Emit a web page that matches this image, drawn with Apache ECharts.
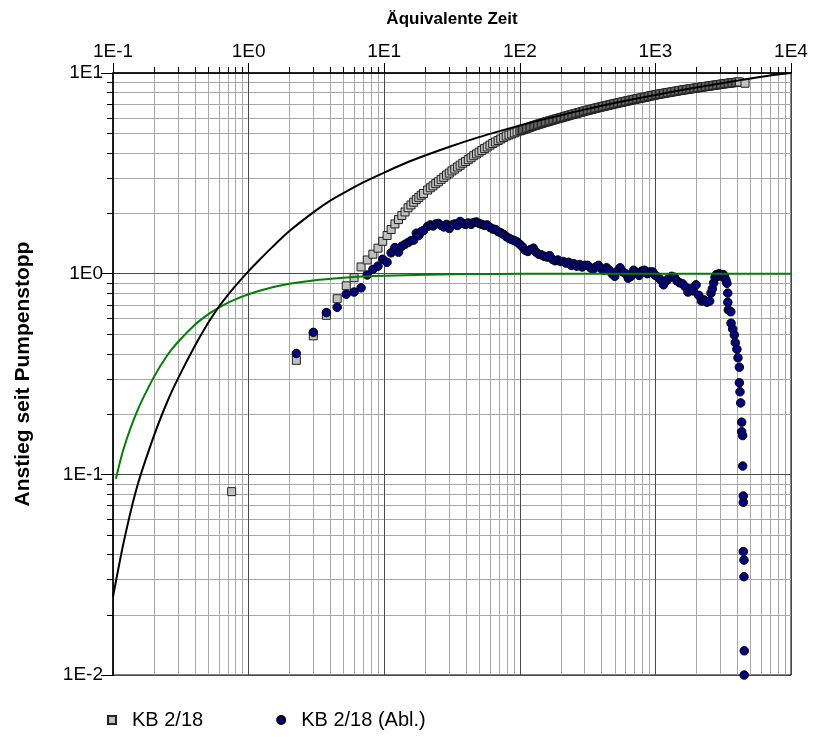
<!DOCTYPE html>
<html>
<head>
<meta charset="utf-8">
<script src="https://cdn.jsdelivr.net/npm/echarts@6/dist/echarts.min.js"></script>
<style>
html, body { margin: 0; padding: 0; background: #fff; }
#chart { width: 814px; height: 740px; }
</style>
</head>
<body>
<div id="chart"></div>
<script>
// Recovery after pump stop: measured rise and its derivative, with type curves.
const xDecades = [0.1, 1, 10, 100, 1000, 10000];
const yDecades = [0.01, 0.1, 1, 10];

// Type curve (rise) [equivalent time, rise]
const typeCurve = [
  [0.1, 0.0245], [0.12, 0.046], [0.15, 0.086], [0.2, 0.155], [0.25, 0.228], [0.3, 0.298],
  [0.4, 0.435], [0.5, 0.565], [0.6, 0.68], [0.7, 0.78], [0.8, 0.87], [1, 1.03],
  [1.2, 1.17], [1.5, 1.36], [2, 1.63], [3, 2.02], [4, 2.31], [5, 2.52], [7, 2.85], [10, 3.19],
  [15, 3.60], [20, 3.88], [30, 4.28], [50, 4.79], [70, 5.12], [100, 5.47], [150, 5.88],
  [200, 6.16], [300, 6.57], [500, 7.08], [700, 7.42], [1000, 7.77], [1500, 8.18],
  [2000, 8.46], [3000, 8.86], [5000, 9.38], [7000, 9.72], [10000, 10.0]
];

// Type curve (derivative)
const typeDerivative = [
  [0.105, 0.095], [0.12, 0.135], [0.15, 0.205], [0.2, 0.305], [0.25, 0.39], [0.3, 0.455],
  [0.4, 0.555], [0.5, 0.625], [0.6, 0.675], [0.7, 0.715], [0.8, 0.745], [1, 0.79],
  [1.5, 0.855], [2, 0.89], [3, 0.925], [5, 0.954], [7, 0.967], [10, 0.977], [20, 0.988],
  [50, 0.995], [100, 0.998], [1000, 1.0], [10000, 1.0]
];

// KB 2/18 measured rise
const kbRise = [
  [0.75, 0.082], [2.25, 0.37], [3.0, 0.49], [3.75, 0.62], [4.5, 0.75], [5.25, 0.87],
  [6.0, 0.955], [6.75, 1.08], [7.5, 1.17], [8.25, 1.25], [9.0, 1.34], [9.75, 1.45],
  [10.5, 1.55], [11.25, 1.66], [12.0, 1.77], [12.75, 1.86], [13.5, 1.95], [14.25, 2.03],
  [15.0, 2.13], [15.75, 2.20], [16.5, 2.27], [17.25, 2.34], [18.0, 2.40], [18.75, 2.46],
  [19.5, 2.51], [20.9, 2.61], [21.9, 2.68], [22.9, 2.74], [24.0, 2.81], [25.1, 2.87],
  [26.3, 2.95], [27.5, 3.02], [28.8, 3.10], [30.2, 3.17], [31.6, 3.25], [33.1, 3.32],
  [34.7, 3.40], [36.3, 3.47], [38.0, 3.55], [39.8, 3.62], [41.7, 3.70], [43.7, 3.78],
  [45.7, 3.87], [47.9, 3.95], [50.1, 4.03], [52.5, 4.11], [55.0, 4.20], [57.5, 4.28],
  [60.3, 4.37], [63.1, 4.45], [66.1, 4.53], [69.2, 4.61], [72.4, 4.69], [75.9, 4.77],
  [79.4, 4.85], [83.2, 4.91], [87.1, 4.97], [91.2, 5.03], [95.5, 5.09],
  [100, 5.15], [102.3, 5.18], [104.7, 5.21], [107.2, 5.24], [109.6, 5.27], [112.2, 5.30],
  [114.8, 5.33], [117.5, 5.36], [120.2, 5.39], [123.0, 5.42], [125.9, 5.45], [128.8, 5.47],
  [131.8, 5.50], [134.9, 5.53], [138.0, 5.56], [141.3, 5.58], [144.5, 5.61], [147.9, 5.64],
  [151.4, 5.67], [154.9, 5.69], [158.5, 5.72], [162.2, 5.74], [166.0, 5.77], [169.8, 5.79],
  [173.8, 5.82], [177.8, 5.85], [182.0, 5.88], [186.2, 5.90], [190.5, 5.93], [195.0, 5.95],
  [199.5, 5.98], [204.2, 6.00], [208.9, 6.03], [213.8, 6.06], [218.8, 6.09], [223.9, 6.11],
  [229.1, 6.14], [234.4, 6.17], [239.9, 6.20], [245.5, 6.22], [251.2, 6.25], [257.0, 6.27],
  [263.0, 6.30], [269.2, 6.33], [275.4, 6.36], [281.8, 6.38], [288.4, 6.41], [295.1, 6.44],
  [302.0, 6.47], [309.0, 6.49], [316.2, 6.52], [323.6, 6.54], [331.1, 6.57], [338.8, 6.59],
  [346.7, 6.62], [354.8, 6.65], [363.1, 6.68], [371.5, 6.70], [380.2, 6.73], [389.0, 6.75],
  [398.1, 6.78], [407.4, 6.80], [416.9, 6.83], [426.6, 6.85], [436.5, 6.88], [446.7, 6.90],
  [457.1, 6.93], [467.7, 6.95], [478.6, 6.98], [489.8, 7.00], [501.2, 7.03], [512.9, 7.05],
  [524.8, 7.08], [537.0, 7.10], [549.5, 7.13], [562.3, 7.15], [575.4, 7.18], [588.8, 7.20],
  [602.6, 7.23], [616.6, 7.25], [631.0, 7.28], [645.7, 7.30], [660.7, 7.33], [676.1, 7.35],
  [691.8, 7.38], [707.9, 7.40], [724.4, 7.42], [741.3, 7.45], [758.6, 7.47], [776.2, 7.50],
  [794.3, 7.52], [812.8, 7.55], [831.8, 7.57], [851.1, 7.60], [871.0, 7.62], [891.3, 7.65],
  [912.0, 7.68], [933.3, 7.70], [955.0, 7.73], [977.2, 7.75],
  [1000, 7.78], [1023, 7.80], [1047, 7.82], [1072, 7.85], [1096, 7.87], [1122, 7.89],
  [1148, 7.91], [1175, 7.94], [1202, 7.96], [1230, 7.98], [1259, 8.00], [1288, 8.02],
  [1318, 8.04], [1349, 8.07], [1380, 8.09], [1413, 8.11], [1445, 8.13], [1479, 8.16],
  [1514, 8.18], [1549, 8.20], [1585, 8.22], [1622, 8.24], [1660, 8.26], [1698, 8.28],
  [1738, 8.30], [1778, 8.32], [1820, 8.34], [1862, 8.36], [1905, 8.38], [1950, 8.40],
  [1995, 8.42], [2042, 8.44], [2089, 8.46], [2138, 8.48], [2188, 8.50], [2239, 8.52],
  [2291, 8.54], [2344, 8.56], [2399, 8.58], [2455, 8.60], [2512, 8.62], [2570, 8.64],
  [2630, 8.66], [2692, 8.68], [2754, 8.70], [2818, 8.72], [2884, 8.74], [2951, 8.76],
  [3020, 8.78], [3090, 8.80], [3162, 8.82], [3236, 8.84], [3311, 8.86], [3388, 8.87],
  [3467, 8.89], [3548, 8.91], [3631, 8.93], [3715, 8.94], [3802, 8.96], [3890, 8.98],
  [3981, 9.00], [4074, 9.01], [4169, 9.02], [4580, 8.89]
];

// KB 2/18 derivative (Abl.)
const kbDerivative = [
  [2.25, 0.40], [3.0, 0.51], [3.75, 0.64], [4.5, 0.68], [5.25, 0.79], [6.0, 0.81],
  [6.75, 0.85], [7.5, 0.985], [8.25, 1.05], [9.0, 1.09], [9.75, 1.18], [10.5, 1.14],
  [11.25, 1.27], [12.0, 1.35], [12.75, 1.28], [13.5, 1.37], [14.25, 1.40], [15.0, 1.43],
  [15.75, 1.46], [16.5, 1.47], [17.25, 1.59], [18.0, 1.55], [18.75, 1.62], [19.5, 1.64],
  [20.9, 1.72], [21.9, 1.75], [22.9, 1.73], [24.0, 1.77], [25.1, 1.78], [26.3, 1.74],
  [27.5, 1.71], [28.8, 1.76], [30.2, 1.68], [31.6, 1.75], [33.1, 1.77], [34.7, 1.74],
  [36.3, 1.82], [38.0, 1.78], [39.8, 1.76], [41.7, 1.79], [43.7, 1.76], [45.7, 1.80],
  [47.9, 1.81], [50.1, 1.78], [52.5, 1.76], [55.0, 1.74], [57.5, 1.75], [60.3, 1.70],
  [63.1, 1.67], [66.1, 1.66], [69.2, 1.62], [72.4, 1.60], [75.9, 1.57], [79.4, 1.53],
  [83.2, 1.50], [87.1, 1.48], [91.2, 1.46], [95.5, 1.44], [100, 1.40], [104.7, 1.36],
  [109.6, 1.31], [114.8, 1.29], [120.2, 1.32], [125.9, 1.34], [131.8, 1.28], [138.0, 1.25],
  [144.5, 1.24], [151.4, 1.22], [158.5, 1.21], [166.0, 1.23], [173.8, 1.18], [182.0, 1.16],
  [190.5, 1.17], [199.5, 1.15], [208.9, 1.15], [218.8, 1.13], [229.1, 1.14], [239.9, 1.10],
  [251.2, 1.12], [263.0, 1.09], [275.4, 1.11], [288.4, 1.08], [302.0, 1.10], [316.2, 1.10],
  [331.1, 1.07], [346.7, 1.05], [363.1, 1.08], [380.2, 1.10], [398.1, 1.06], [416.9, 1.04],
  [436.5, 1.07], [457.1, 1.04], [478.6, 1.00], [501.2, 0.97], [524.8, 1.03], [549.5, 1.07],
  [575.4, 1.02], [602.6, 1.00], [631.0, 0.95], [660.7, 0.97], [691.8, 1.04], [724.4, 1.01],
  [758.6, 0.98], [794.3, 1.03], [831.8, 1.04], [871.0, 1.00], [912.0, 1.02], [955.0, 1.02],
  [1000, 0.98], [1047, 0.96], [1096, 0.93], [1148, 0.88], [1202, 0.92], [1259, 0.95],
  [1318, 0.97], [1380, 0.96], [1445, 0.92], [1514, 0.90], [1585, 0.89], [1660, 0.86],
  [1738, 0.81], [1820, 0.84], [1905, 0.82], [1995, 0.88], [2089, 0.78], [2188, 0.73],
  [2291, 0.74], [2399, 0.72], [2512, 0.73], [2570, 0.80], [2630, 0.84], [2692, 0.90],
  [2754, 0.96], [2818, 0.99], [2884, 0.97], [2951, 1.00], [3020, 0.99], [3090, 0.97],
  [3162, 0.99], [3236, 0.97], [3311, 0.93], [3370, 0.895], [3415, 0.80], [3420, 0.72],
  [3450, 0.66], [3600, 0.646], [3613, 0.566], [3713, 0.53], [3820, 0.495], [3883, 0.453],
  [3990, 0.42], [4064, 0.381], [4160, 0.342], [4160, 0.286], [4206, 0.258], [4255, 0.227],
  [4327, 0.182], [4327, 0.163], [4400, 0.156], [4400, 0.110], [4450, 0.078], [4450, 0.0726],
  [4450, 0.0412], [4500, 0.0374], [4500, 0.0309], [4520, 0.0132], [4520, 0.0100]
];

// Intermediate grid positions (2..9 within each decade)
function minorPositions(decades) {
  const out = [];
  for (let i = 0; i < decades.length - 1; i++) {
    for (let m = 2; m <= 9; m++) out.push(+(decades[i] * m).toPrecision(3));
  }
  return out;
}
const xMinor = minorPositions(xDecades);
const yMinor = minorPositions(yDecades);

const FONT = "'Liberation Sans', Arial, sans-serif";
const MINOR_GRID = '#a8a8a8';
const MAJOR_GRID = '#4a4a4a';

const decadeLabel = v => '1E' + Math.round(Math.log10(v));

const chart = echarts.init(document.getElementById('chart'), null, { renderer: 'canvas' });

chart.setOption({
  backgroundColor: '#ffffff',
  animation: false,
  grid: {
    left: 113, top: 73, right: 23, bottom: 65,
    outerBoundsMode: 'none', containLabel: false,
    show: true, borderColor: '#000', borderWidth: 1
  },
  legend: {
    left: 91, top: 705,
    itemWidth: 30, itemHeight: 8, itemGap: 73,
    symbolKeepAspect: true,
    textStyle: { fontFamily: FONT, fontSize: 20, color: '#000' },
    data: [
      // square centred in a 30×8 box
      { name: 'KB 2/18', icon: 'path://M0,0M30,8M11,0H19V8H11Z' },
      { name: 'KB 2/18 (Abl.)', icon: 'circle' }
    ]
  },
  xAxis: {
    type: 'log', logBase: 10, min: xDecades[0], max: xDecades[xDecades.length - 1],
    splitNumber: 5, position: 'top',
    name: 'Äquivalente Zeit', nameLocation: 'middle', nameGap: 45,
    nameTextStyle: { fontFamily: FONT, fontSize: 17, fontWeight: 'bold', color: '#000' },
    axisLine: { show: true, lineStyle: { color: '#000', width: 1.5 } },
    axisTick: { show: true, inside: false, length: 10, lineStyle: { color: '#000', width: 1 } },
    axisLabel: { formatter: decadeLabel, margin: 12, fontFamily: FONT, fontSize: 19, color: '#000' },
    splitLine: { show: true, lineStyle: { color: MAJOR_GRID, width: 1 } },
    z: 3
  },
  yAxis: {
    type: 'log', logBase: 10, min: yDecades[0], max: yDecades[yDecades.length - 1],
    splitNumber: 3,
    name: 'Anstieg seit Pumpenstopp', nameLocation: 'middle', nameGap: 79,
    nameTextStyle: { fontFamily: FONT, fontSize: 21, fontWeight: 'bold', color: '#000' },
    axisLine: { show: true, lineStyle: { color: '#000', width: 1.5 } },
    axisTick: { show: true, inside: false, length: 12, lineStyle: { color: '#000', width: 1 } },
    axisLabel: { formatter: decadeLabel, margin: 10, fontFamily: FONT, fontSize: 19, color: '#000' },
    splitLine: { show: true, lineStyle: { color: MAJOR_GRID, width: 1 } },
    z: 3
  },
  series: [
    {
      name: 'minorX', type: 'custom', silent: true, z: 0,
      data: xMinor.map(v => [v, 1]),
      renderItem: (params, api) => {
        const cs = params.coordSys;
        const px = Math.round(api.coord([api.value(0), 1])[0]) + 0.5;
        return {
          type: 'group',
          children: [
            { type: 'line', shape: { x1: px, y1: cs.y, x2: px, y2: cs.y + cs.height },
              style: { stroke: MINOR_GRID, lineWidth: 1 } },
            { type: 'line', shape: { x1: px, y1: cs.y, x2: px, y2: cs.y - 6 },
              style: { stroke: '#000', lineWidth: 1 } }
          ]
        };
      }
    },
    {
      name: 'minorY', type: 'custom', silent: true, z: 0,
      data: yMinor.map(v => [1, v]),
      renderItem: (params, api) => {
        const cs = params.coordSys;
        const py = Math.round(api.coord([1, api.value(1)])[1]) + 0.5;
        return {
          type: 'group',
          children: [
            { type: 'line', shape: { x1: cs.x, y1: py, x2: cs.x + cs.width, y2: py },
              style: { stroke: MINOR_GRID, lineWidth: 1 } },
            { type: 'line', shape: { x1: cs.x, y1: py, x2: cs.x - 6, y2: py },
              style: { stroke: '#000', lineWidth: 1 } }
          ]
        };
      }
    },
    {
      name: 'KB 2/18', type: 'scatter', z: 4,
      symbol: 'rect', symbolSize: 8,
      itemStyle: { color: '#c0c0c0', borderColor: '#202020', borderWidth: 1, opacity: 1 },
      data: kbRise
    },
    {
      name: 'KB 2/18 (Abl.)', type: 'scatter', z: 5,
      symbol: 'circle', symbolSize: 8.5,
      itemStyle: { color: '#000080', borderColor: '#000', borderWidth: 1, opacity: 1 },
      data: kbDerivative
    },
    {
      name: 'Typkurve Ableitung', type: 'line', z: 6, smooth: 0.25,
      showSymbol: false, symbol: 'none',
      lineStyle: { color: '#008000', width: 2 },
      data: typeDerivative
    },
    {
      name: 'Typkurve', type: 'line', z: 7, smooth: 0.25,
      showSymbol: false, symbol: 'none',
      lineStyle: { color: '#000000', width: 2 },
      data: typeCurve
    }
  ]
});
</script>
</body>
</html>
